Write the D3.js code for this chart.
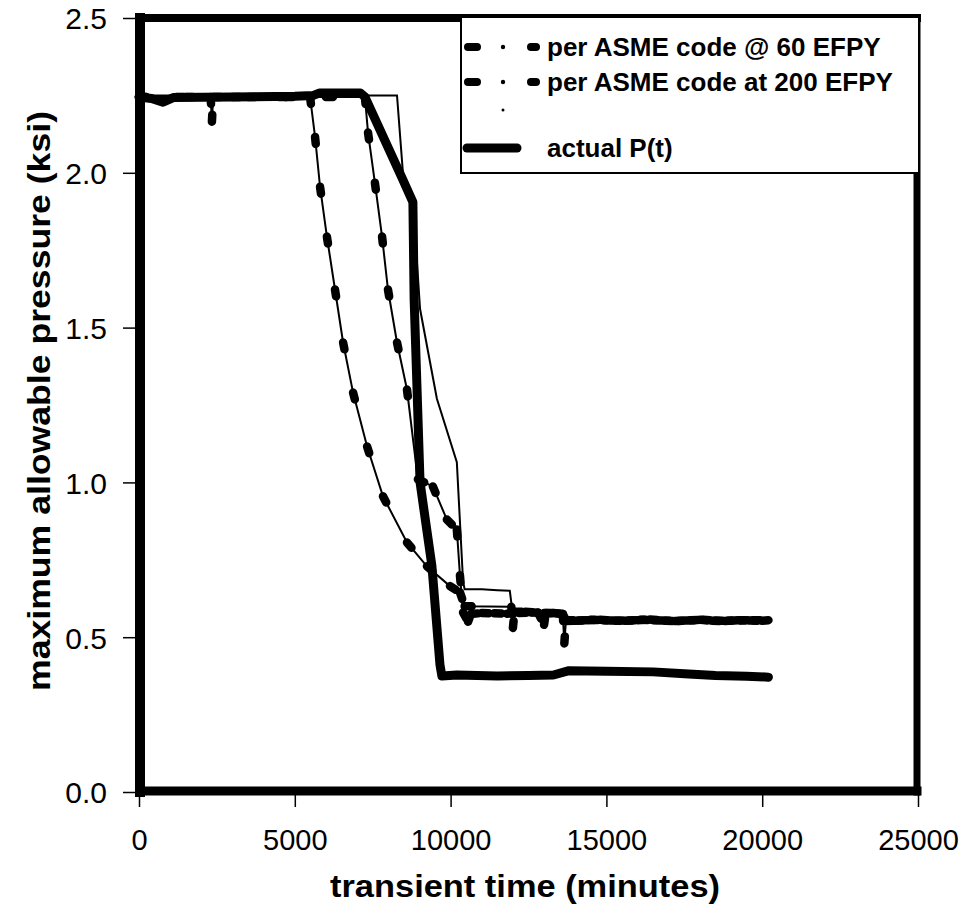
<!DOCTYPE html>
<html>
<head>
  <meta charset="utf-8">
  <title>maximum allowable pressure</title>
  <script type="text/javascript" src="https://cdn.jsdelivr.net/npm/d3@7/dist/d3.min.js"></script>
  <style>
    body { margin: 0; background: #fff; }
    svg text { font-family: "Liberation Sans", Arial, sans-serif; fill: #000; }
  </style>
</head>
<body>
  <svg id="chart"></svg>
  <script>
    // series (time in minutes, pressure in ksi)
    var tA60 = [0, 1200, 2300, 2340, 2380, 3500, 4700, 5490, 5650, 5810, 6030, 6290, 6550, 6870, 7320, 7830, 8600,
                9240, 9980, 10300, 10450, 11950, 12000, 12050, 12400, 12800, 13000, 13050, 13300, 13600, 13650,
                13700, 14000, 14400, 14800, 15200, 15600, 16000, 16400, 16800, 17200, 17600, 18000, 18400, 18800,
                19200, 19600, 20000, 20200];
    var vA60 = [2.245, 2.245, 2.245, 2.165, 2.245, 2.245, 2.245, 2.245, 2.116, 1.955, 1.794, 1.623, 1.452, 1.29, 1.116,
                0.955, 0.806, 0.729, 0.665, 0.645, 0.60, 0.598, 0.53, 0.582, 0.582, 0.58, 0.54, 0.578, 0.578, 0.575,
                0.48, 0.552, 0.553, 0.555, 0.556, 0.554, 0.553, 0.555, 0.557, 0.554, 0.552, 0.554, 0.556, 0.553,
                0.552, 0.555, 0.554, 0.553, 0.555];

    var tB200 = [0, 1500, 3000, 4500, 6000, 7250, 7350, 7570, 7800, 7990, 8280, 8600, 8950, 9430, 9880, 10200,
                 10300, 10400, 10560, 10650, 11000, 11400, 11800, 12200, 12600, 13000, 13400, 13600, 13700, 14100,
                 14500, 14900, 15300, 15700, 16100, 16500, 16900, 17300, 17700, 18100, 18500, 18900, 19300, 19700,
                 20100];
    var vB200 = [2.245, 2.245, 2.245, 2.245, 2.245, 2.245, 2.13, 1.968, 1.794, 1.623, 1.452, 1.30, 1.01, 0.987, 0.88,
                 0.848, 0.70, 0.58, 0.55, 0.575, 0.578, 0.577, 0.576, 0.578, 0.58, 0.578, 0.577, 0.575, 0.555, 0.554,
                 0.556, 0.555, 0.553, 0.554, 0.556, 0.555, 0.553, 0.552, 0.555, 0.556, 0.554, 0.553, 0.554, 0.555,
                 0.554];

    var tThin = [0, 8280, 8470, 8790, 9020, 9560, 10200, 10400, 10450, 11000, 11500, 11900, 11950, 12000, 12600, 13600];
    var vThin = [2.25, 2.25, 2.0, 1.91, 1.56, 1.27, 1.065, 0.68, 0.655, 0.655, 0.652, 0.65, 0.61, 0.585, 0.58, 0.578];

    var tActual = [0, 400, 770, 1100, 3000, 5000, 5600, 5800, 7100, 7250, 8470, 8790, 8830, 9020, 9400, 9660, 9720,
                   10200, 11500, 12500, 13300, 13800, 15000, 16500, 17500, 18500, 19500, 20200];
    var vActual = [2.245, 2.24, 2.228, 2.243, 2.245, 2.247, 2.25, 2.258, 2.258, 2.245, 1.977, 1.905, 1.59, 1.0, 0.73,
                   0.41, 0.375, 0.378, 0.375, 0.376, 0.378, 0.392, 0.39, 0.388, 0.382, 0.376, 0.374, 0.371];

    var legendLabels = ["per ASME code @ 60 EFPY", "per ASME code at 200 EFPY", "", "actual P(t)"];
    var xTicks = [0, 5000, 10000, 15000, 20000, 25000];
    var yTicks = [0, 0.5, 1.0, 1.5, 2.0, 2.5];

    var width = 969, height = 917;
    var svg = d3.select("#chart").attr("width", width).attr("height", height);

    var x = d3.scaleLinear().domain([0, 25000]).range([139, 918]);
    var y = d3.scaleLinear().domain([0, 2.5]).range([792, 18]);

    function pts(t, v) {
      return t.map(function(d, i) { return [x(d), y(v[i])]; });
    }
    var line = d3.line();

    // axes (ticks sit outside the frame)
    var gy = svg.append("g").attr("transform", "translate(139,0)")
      .call(d3.axisLeft(y).tickValues(yTicks).tickFormat(d3.format(".1f")).tickSize(16).tickPadding(16));
    gy.select(".domain").remove();
    gy.selectAll(".tick line").attr("stroke-width", 1.5);
    gy.selectAll("text").attr("font-size", 30).attr("dy", "0.36em");

    var gx = svg.append("g").attr("transform", "translate(0,792)")
      .call(d3.axisBottom(x).tickValues(xTicks).tickFormat(d3.format("d")).tickSize(15).tickPadding(22));
    gx.select(".domain").remove();
    gx.selectAll(".tick line").attr("stroke-width", 1.5);
    gx.selectAll("text").attr("font-size", 29);

    var plot = svg.append("g");

    // thin connecting lines
    [[tA60, vA60], [tB200, vB200], [tThin, vThin]].forEach(function(s) {
      plot.append("path").attr("d", line(pts(s[0], s[1])))
        .attr("fill", "none").attr("stroke", "#000").attr("stroke-width", 2);
    });

    // dash at the start of every segment (Excel style dash restart)
    function dashes(t, v) {
      plot.append("g").selectAll("line")
        .data(d3.pairs(pts(t, v)))
        .join("line")
        .attr("x1", function(d) { return d[0][0]; })
        .attr("y1", function(d) { return d[0][1]; })
        .attr("x2", function(d) { return d[1][0]; })
        .attr("y2", function(d) { return d[1][1]; })
        .attr("stroke", "#000")
        .attr("stroke-width", 8.5)
        .attr("stroke-linecap", "round")
        .attr("stroke-dasharray", "7 5000");
    }
    dashes(tA60, vA60);
    dashes(tB200, vB200);

    plot.append("path").attr("d", line(pts(tActual, vActual)))
      .attr("fill", "none").attr("stroke", "#000").attr("stroke-width", 9)
      .attr("stroke-linejoin", "round").attr("stroke-linecap", "round");

    // frame
    var frame = svg.append("g").attr("stroke", "#000").attr("stroke-linecap", "square");
    frame.append("line").attr("x1", 140).attr("y1", 18).attr("x2", 140).attr("y2", 792).attr("stroke-width", 10);
    frame.append("line").attr("x1", 140).attr("y1", 18).attr("x2", 917).attr("y2", 18).attr("stroke-width", 8);
    frame.append("line").attr("x1", 917).attr("y1", 18).attr("x2", 917).attr("y2", 792).attr("stroke-width", 7);
    frame.append("line").attr("x1", 140).attr("y1", 791).attr("x2", 917).attr("y2", 791).attr("stroke-width", 9);

    // legend
    var lg = svg.append("g");
    lg.append("rect").attr("x", 461).attr("y", 17).attr("width", 458).attr("height", 156)
      .attr("fill", "#fff").attr("stroke", "#000").attr("stroke-width", 2);
    var rowY = [47, 82, 114, 148];
    legendLabels.forEach(function(lab, i) {
      var cy = rowY[i];
      if (i < 2) {
        lg.append("line").attr("x1", 468).attr("x2", 477).attr("y1", cy).attr("y2", cy)
          .attr("stroke", "#000").attr("stroke-width", 8).attr("stroke-linecap", "round");
        lg.append("circle").attr("cx", 503).attr("cy", cy).attr("r", 2.2);
        lg.append("line").attr("x1", 531).attr("x2", 536).attr("y1", cy).attr("y2", cy)
          .attr("stroke", "#000").attr("stroke-width", 8).attr("stroke-linecap", "round");
      } else if (i === 2) {
        lg.append("circle").attr("cx", 503).attr("cy", cy - 4).attr("r", 1.5);
      } else {
        lg.append("line").attr("x1", 467).attr("x2", 517).attr("y1", cy).attr("y2", cy)
          .attr("stroke", "#000").attr("stroke-width", 9).attr("stroke-linecap", "round");
      }
      if (lab)
        lg.append("text").attr("x", 547).attr("y", cy + 9)
          .attr("font-size", 26).attr("font-weight", "bold").text(lab);
    });

    // axis titles
    svg.append("text").attr("x", 525).attr("y", 897).attr("text-anchor", "middle")
      .attr("font-size", 31).attr("font-weight", "bold")
      .attr("textLength", 390).attr("lengthAdjust", "spacingAndGlyphs")
      .text("transient time (minutes)");
    svg.append("text").attr("transform", "translate(50,401) rotate(-90)").attr("text-anchor", "middle")
      .attr("font-size", 31).attr("font-weight", "bold")
      .attr("textLength", 580).attr("lengthAdjust", "spacingAndGlyphs")
      .text("maximum allowable pressure (ksi)");
  </script>
</body>
</html>
